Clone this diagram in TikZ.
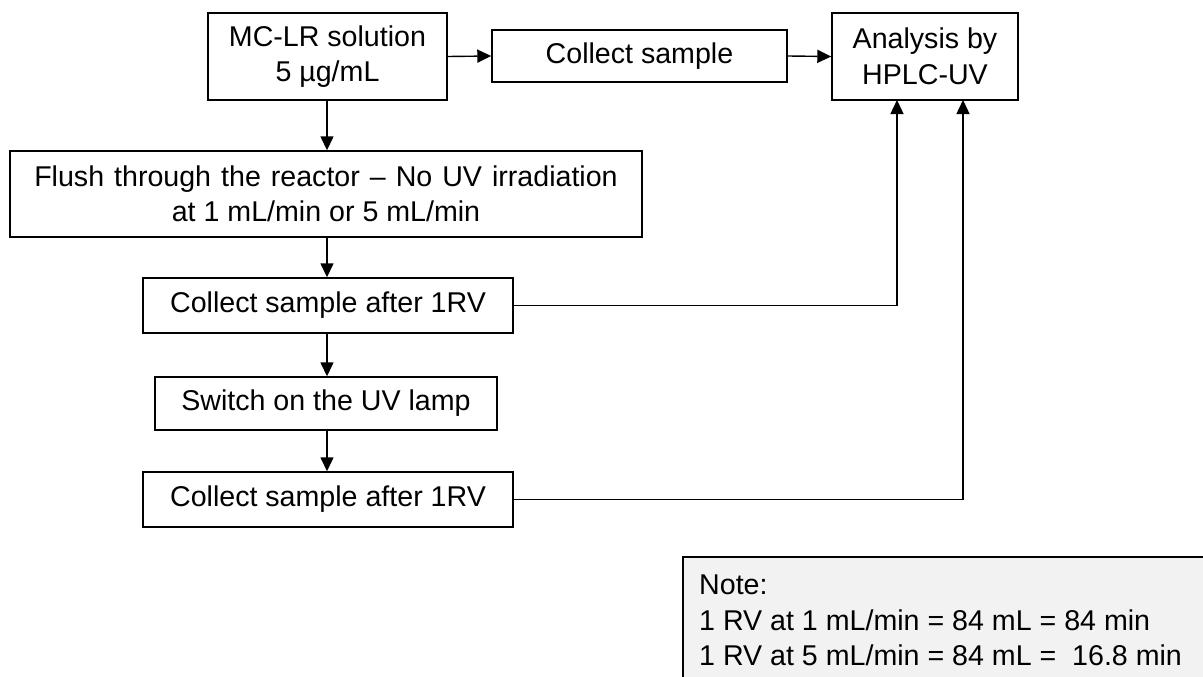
\documentclass[tikz,border=0pt]{standalone}
\usepackage{fontspec}
\setmainfont{Liberation Sans}
\usetikzlibrary{arrows.meta}
\begin{document}
\begin{tikzpicture}[x=1pt,y=-1pt,
  every node/.style={font=\fontsize{28.6}{35.5}\selectfont},
  box/.style={draw=black,line width=1.4pt,inner sep=0pt,align=center,fill=white},
  arr/.style={line width=1.4pt,-{Triangle[length=14pt,width=13pt]}},
  conn/.style={line width=1.4pt}]
\useasboundingbox (0,0) rectangle (1203,677);
\begin{scope}
\clip (0,0) rectangle (1203,677);
\draw[line width=1.4pt,fill={rgb,255:red,242;green,242;blue,242}] (683,557) rectangle (1220,700);
\end{scope}
\node[anchor=north west,inner sep=0pt,align=left] (note) at (699,575) {Note:\\1 RV at 1 mL/min = 84 mL = 84 min\\1 RV at 5 mL/min = 84 mL = \ 16.8 min};

\node[box,minimum width=239pt,minimum height=87pt] (A) at (327.5,56.5) {MC-LR solution\\5 µg/mL};
\node[box,minimum width=295pt,minimum height=52pt] (B) at (639.5,56) {Collect sample};
\node[box,minimum width=186pt,minimum height=87pt] (C) at (925,56.5) {Analysis by\\HPLC-UV};
\node[box,minimum width=632pt,minimum height=86pt] (D) at (326,194) {\spaceskip=10pt Flush through the reactor – No UV irradiation\\at 1 mL/min or 5 mL/min};
\node[box,minimum width=370pt,minimum height=55pt] (E) at (328,305.5) {Collect sample after 1RV};
\node[box,minimum width=342pt,minimum height=53pt] (F) at (326,403.5) {Switch on the UV lamp};
\node[box,minimum width=370pt,minimum height=55pt] (G) at (328,499.5) {Collect sample after 1RV};

\coordinate (c1) at (897,100);
\coordinate (c2) at (963,100);

\draw[arr] (A.east) -- (B.west);
\draw[arr] (B.east) -- (C.west);
\draw[arr] (327,100) -- (D.north -| 327,0);
\draw[arr] (D.south -| 327,0) -- (E.north -| 327,0);
\draw[arr] (E.south -| 327,0) -- (F.north -| 327,0);
\draw[arr] (F.south -| 327,0) -- (G.north -| 327,0);
\draw[arr] (E.east) -| (c1);
\draw[arr] (G.east) -| (c2);
\end{tikzpicture}
\end{document}
